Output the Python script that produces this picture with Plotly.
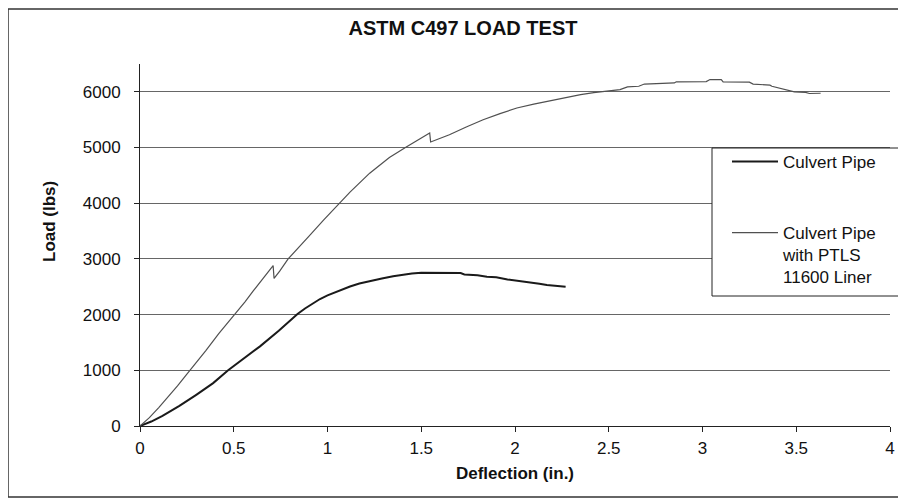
import plotly.graph_objects as go

# ---- data ----
pipe_x = [0, 0.06, 0.12, 0.21, 0.30, 0.39, 0.47, 0.56, 0.64, 0.74, 0.84, 0.88, 0.92, 0.96,
          1.00, 1.06, 1.12, 1.17, 1.23, 1.29, 1.35, 1.40, 1.45, 1.50, 1.56, 1.64, 1.71,
          1.73, 1.80, 1.85, 1.90, 1.96, 2.03, 2.10, 2.13, 2.17, 2.22, 2.27]
pipe_y = [0, 80, 180, 360, 560, 770, 1000, 1220, 1430, 1710, 2010, 2110, 2200, 2280,
          2345, 2430, 2505, 2560, 2610, 2650, 2690, 2720, 2740, 2750, 2750, 2750, 2745,
          2720, 2705, 2680, 2670, 2630, 2600, 2575, 2555, 2530, 2515, 2500]

liner_x = [0, 0.05, 0.10, 0.15, 0.20, 0.25, 0.30, 0.35, 0.42, 0.51, 0.56, 0.605, 0.65,
           0.70, 0.71, 0.715, 0.745, 0.79, 0.84, 0.91, 0.98, 1.06, 1.12, 1.225, 1.33,
           1.42, 1.49, 1.545, 1.55, 1.65, 1.74, 1.83, 1.92, 2.01, 2.10, 2.19, 2.27, 2.35,
           2.42, 2.46, 2.51, 2.56, 2.60, 2.66, 2.69, 2.85, 2.86, 3.02, 3.04, 3.10, 3.11,
           3.25, 3.27, 3.36, 3.37, 3.42, 3.45, 3.49, 3.55, 3.57, 3.63]
liner_y = [0, 150, 330, 520, 720, 930, 1130, 1350, 1660, 2020, 2230, 2430, 2620,
           2830, 2880, 2650, 2780, 3000, 3190, 3440, 3700, 3990, 4200, 4540, 4820,
           5010, 5150, 5260, 5100, 5230, 5370, 5500, 5610, 5710, 5780, 5840, 5900, 5950,
           5985, 6000, 6030, 6040, 6090, 6100, 6140, 6160, 6180, 6185, 6220, 6220, 6180,
           6175, 6140, 6120, 6100, 6060, 6040, 6000, 5990, 5970, 5975]

series_names = ["Culvert Pipe", "Culvert Pipe<br>with PTLS<br>11600 Liner"]
x_ticks = [0, 0.5, 1, 1.5, 2, 2.5, 3, 3.5, 4]
x_tick_text = ["0", "0.5", "1", "1.5", "2", "2.5", "3", "3.5", "4"]
y_ticks = [0, 1000, 2000, 3000, 4000, 5000, 6000]

FONT = "Liberation Sans, Arial, sans-serif"

fig = go.Figure()
fig.add_trace(go.Scatter(x=pipe_x, y=pipe_y, mode="lines", name=series_names[0],
                         legendgroup="a", line=dict(color="#1a1a1a", width=2)))
fig.add_trace(go.Scatter(x=liner_x, y=liner_y, mode="lines", name=series_names[1],
                         legendgroup="b", line=dict(color="#505050", width=1.2)))

# target plot area on screen: x 140..890, y 64..426 (page has an 8px body offset)
def px_x(p):
    return (p - 140) / 750.0

def px_y(p):
    return (426 - p) / 362.0

shapes = [
    # legend box
    dict(type="rect", xref="paper", yref="paper", x0=px_x(712), x1=px_x(915),
         y0=px_y(296), y1=px_y(148), line=dict(color="#222", width=1),
         fillcolor="white", layer="above"),
    # outer chart frame
    dict(type="line", xref="paper", yref="paper", x0=px_x(8), x1=px_x(8),
         y0=px_y(9), y1=px_y(497), line=dict(color="#333", width=1.5)),
    dict(type="line", xref="paper", yref="paper", x0=px_x(8), x1=px_x(915),
         y0=px_y(9), y1=px_y(9), line=dict(color="#333", width=1.5)),
    dict(type="line", xref="paper", yref="paper", x0=px_x(8), x1=px_x(915),
         y0=px_y(497), y1=px_y(497), line=dict(color="#333", width=1.5)),
]

fig.update_layout(
    width=906, height=501,
    margin=dict(l=132, r=24, t=56, b=83),
    paper_bgcolor="white", plot_bgcolor="white",
    font=dict(family=FONT, size=16, color="#111"),
    title=dict(text="<b>ASTM C497 LOAD TEST</b>", x=455 / 906, xanchor="center",
               y=1 - 20 / 501, yanchor="middle", xref="container", yref="container",
               font=dict(family=FONT, size=20, color="#111")),
    xaxis=dict(range=[0, 4], tickvals=x_ticks, ticktext=x_tick_text, ticks="outside",
               ticklen=5, tickcolor="#222", showline=True, linecolor="#222", linewidth=1,
               showgrid=False, zeroline=False, ticklabelstandoff=2,
               tickfont=dict(size=17),
               title=dict(text="<b>Deflection (in.)</b>", standoff=9,
                          font=dict(size=17))),
    yaxis=dict(range=[0, 6500], tickvals=y_ticks, ticks="outside", ticklen=5,
               tickcolor="#222", showline=True, linecolor="#222", linewidth=1,
               showgrid=True, gridcolor="#666", gridwidth=1, zeroline=False,
               ticklabelstandoff=10, tickfont=dict(size=17)),
    legend=dict(x=px_x(727), y=px_y(144), xanchor="left", yanchor="top",
                bgcolor="rgba(0,0,0,0)", borderwidth=0, valign="top",
                tracegroupgap=46, itemwidth=46, font=dict(size=17)),
    shapes=shapes,
    annotations=[dict(text="<b>Load (lbs)</b>", textangle=-90, xref="paper", yref="paper",
                      x=px_x(49), y=px_y(222), showarrow=False, xanchor="center",
                      yanchor="middle", font=dict(size=17))],
)

fig.write_html("out.html")
